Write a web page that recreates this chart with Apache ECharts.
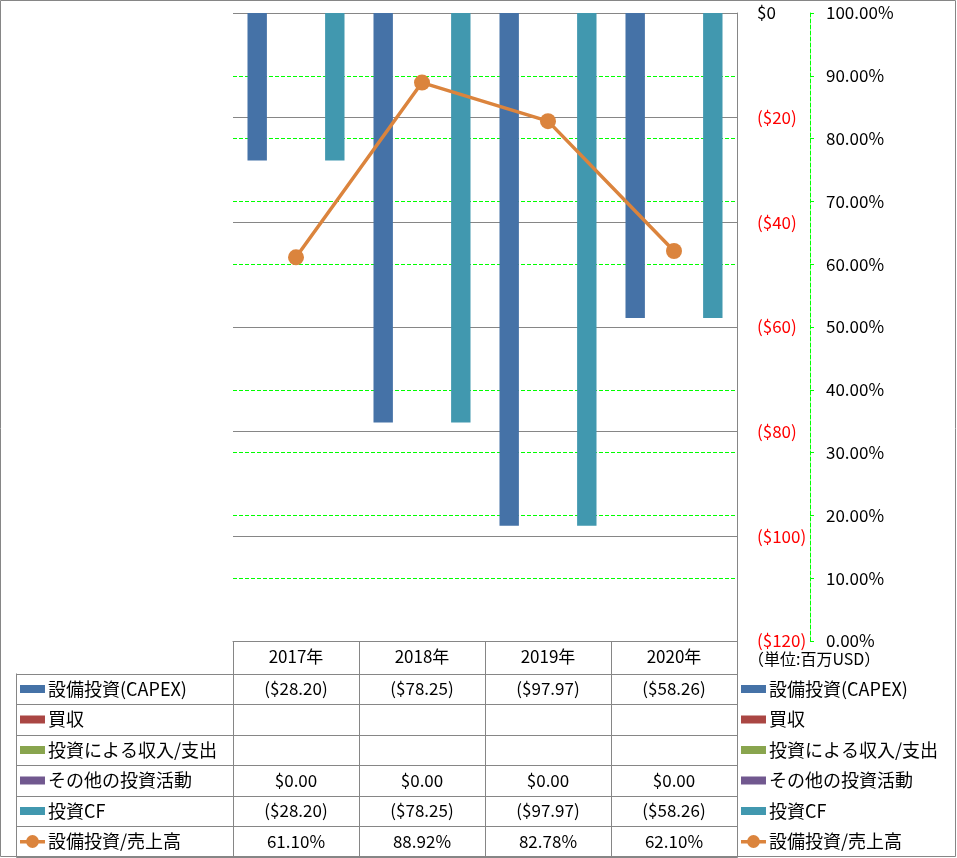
<!DOCTYPE html>
<html><head><meta charset="utf-8">
<script src="https://cdn.jsdelivr.net/npm/echarts@6/dist/echarts.min.js"></script>
<style>html,body{margin:0;padding:0;background:#fff}#c{width:957px;height:858px}</style>
</head><body><div id="c"></div>
<script>
// ---- data ----
const categories = ['2017年', '2018年', '2019年', '2020年'];
const capex = [-28.20, -78.25, -97.97, -58.26];
const acquisition = [null, null, null, null];
const investIncome = [null, null, null, null];
const otherInvest = [0, 0, 0, 0];
const investCF = [-28.20, -78.25, -97.97, -58.26];
const capexRatio = [61.10, 88.92, 82.78, 62.10];
const seriesNames = ['設備投資(CAPEX)', '買収', '投資による収入/支出', 'その他の投資活動', '投資CF', '設備投資/売上高'];
const dollarAxis = { min: -120, max: 0, interval: 20 };
const pctAxis = { min: 0, max: 100, interval: 10 };
const unitLabel = '（単位:百万USD）';

// ---- style ----
const colors = ['#4572A7', '#AA4643', '#89A54E', '#71588F', '#4198AF', '#DB843D'];
const FONT = '"Noto Sans CJK JP", "Noto Sans", sans-serif';
const FS = 17;
const GRAY = '#868686';
const gridBox = { left: 233, top: 13, right: 220, bottom: 217 };
const tableTop = 673.5, rowH = 30.5, tableLeft = 16.5;
// legend key shapes (bar key: 25x8 block inside a 25x13 box; line key: line with a dot)
const barKeyIcon = 'path://M0,0h0.01v0.01h-0.01z M0,2.5h25v8h-25z M0,13h0.01v0.01h-0.01z';
const lineKeyIcon = 'path://M0,5h25v3.5h-25z M6.1,6.5A6.4,6.4 0 1 1 18.9,6.5A6.4,6.4 0 1 1 6.1,6.5z M0,0h0.01v0.01h-0.01z M0,13h0.01v0.01h-0.01z';

function fmtMoney(v) {
  if (v === null || v === undefined) return '';
  if (v < 0) return '($' + (-v).toFixed(2) + ')';
  return '$' + v.toFixed(2);
}
function fmtPct(v) { return v === null ? '' : v.toFixed(2) + '%'; }

const chart = echarts.init(document.getElementById('c'), null, { renderer: 'canvas' });

const barSeriesData = [capex, acquisition, investIncome, otherInvest, investCF];
const series = barSeriesData.map((d, i) => ({
  name: seriesNames[i],
  type: 'bar',
  yAxisIndex: 1,
  data: d,
  barGap: '0%',
  barCategoryGap: '23%',
  itemStyle: { color: colors[i] },
  z: 2
}));
series.push({
  name: seriesNames[5],
  type: 'line',
  yAxisIndex: 0,
  data: capexRatio,
  symbol: 'circle',
  symbolSize: 16,
  lineStyle: { color: colors[5], width: 3.5 },
  itemStyle: { color: colors[5] },
  z: 5
});

const legendCommon = {
  orient: 'vertical',
  itemWidth: 25,
  itemHeight: 13,
  itemGap: 10.5,
  padding: 0,
  selectedMode: false,
  textStyle: { fontFamily: FONT, fontSize: 18, color: '#000', lineHeight: 20, padding: [0, 0, 0, -2] },
  data: seriesNames.map((n, i) => ({ name: n, icon: i === 5 ? lineKeyIcon : barKeyIcon, itemStyle: { color: colors[i], borderWidth: 0 } }))
};

chart.setOption({
  animation: false,
  textStyle: { fontFamily: FONT },
  grid: Object.assign({ containLabel: false }, gridBox),
  legend: [
    Object.assign({ left: 20, top: 679 }, legendCommon),
    Object.assign({ left: 741, top: 679 }, legendCommon)
  ],
  title: {
    text: unitLabel, left: 748, top: 651,
    textStyle: { fontFamily: FONT, fontSize: 16, fontWeight: 'normal', color: '#000' },
    padding: 0
  },
  xAxis: {
    type: 'category',
    data: categories,
    boundaryGap: true,
    axisLine: { show: true, lineStyle: { color: GRAY, width: 1 } },
    axisTick: { show: true, interval: 0, length: 33, inside: false, lineStyle: { color: GRAY } },
    axisLabel: { fontFamily: FONT, fontSize: FS, color: '#000', margin: 7, interval: 0 },
    splitLine: { show: false }
  },
  yAxis: [
    {
      type: 'value', position: 'right', offset: 73,
      min: pctAxis.min, max: pctAxis.max, interval: pctAxis.interval,
      axisLine: { show: true, lineStyle: { color: '#00FF00', type: 'dashed', width: 1 } },
      axisTick: { show: true, length: 4, inside: false, lineStyle: { color: '#00FF00' } },
      axisLabel: { fontFamily: FONT, fontSize: FS, color: '#000', margin: 16, formatter: v => fmtPct(v) },
      splitLine: { show: true, lineStyle: { color: '#00FF00', type: 'dashed', width: 1 } }
    },
    {
      type: 'value', position: 'right', offset: 0,
      min: dollarAxis.min, max: dollarAxis.max, interval: dollarAxis.interval,
      axisLine: { show: true, onZero: false, lineStyle: { color: GRAY, width: 1 } },
      axisTick: { show: false },
      axisLabel: {
        fontFamily: FONT, fontSize: FS, margin: 20,
        color: v => (Number(v) < 0 ? '#FF0000' : '#000'),
        formatter: v => (v < 0 ? '($' + (-v) + ')' : '$' + v)
      },
      splitLine: { show: true, lineStyle: { color: GRAY, width: 1 } }
    }
  ],
  series: series
});

// ---- data table built from the same arrays ----
const rowData = [capex, acquisition, investIncome, otherInvest, investCF, capexRatio];
const rowFmt = [fmtMoney, fmtMoney, fmtMoney, fmtMoney, fmtMoney, fmtPct];
const px = c => {
  const p = chart.convertToPixel({ xAxisIndex: 0 }, c);
  return Array.isArray(p) ? p[0] : p;
};
const centers = categories.map((c, i) => px(i));
const half = (centers[1] - centers[0]) / 2;
const bounds = [centers[0] - half].concat(centers.map(c => c + half));
const tableRight = Math.round(bounds[bounds.length - 1]) + 0.5;
const tableBottom = Math.round(tableTop + rowH * rowData.length) + 0.5;

const g = [];
for (let r = 0; r <= rowData.length; r++) {
  const y = Math.round(tableTop + rowH * r) + 0.5;
  g.push({ type: 'line', shape: { x1: tableLeft, y1: y, x2: tableRight, y2: y }, style: { stroke: GRAY, lineWidth: 1 }, z: 10 });
}
g.push({ type: 'line', shape: { x1: tableLeft, y1: tableTop, x2: tableLeft, y2: tableBottom }, style: { stroke: GRAY, lineWidth: 1 }, z: 10 });
bounds.forEach(b => {
  const x = Math.round(b) + 0.5;
  g.push({ type: 'line', shape: { x1: x, y1: tableTop, x2: x, y2: tableBottom }, style: { stroke: GRAY, lineWidth: 1 }, z: 10 });
});
rowData.forEach((row, r) => {
  row.forEach((v, c) => {
    g.push({
      type: 'text', z: 10,
      style: {
        text: rowFmt[r](v), x: centers[c], y: tableTop + rowH * r + rowH / 2,
        align: 'center', verticalAlign: 'middle',
        fontFamily: FONT, fontSize: FS, fill: '#000'
      }
    });
  });
});
// chart outer border
g.push({ type: 'rect', shape: { x: 0.5, y: 0.5, width: 955, height: 856 }, style: { fill: null, stroke: GRAY, lineWidth: 1 }, z: 0 });
chart.setOption({ graphic: g });
</script>
</body></html>
